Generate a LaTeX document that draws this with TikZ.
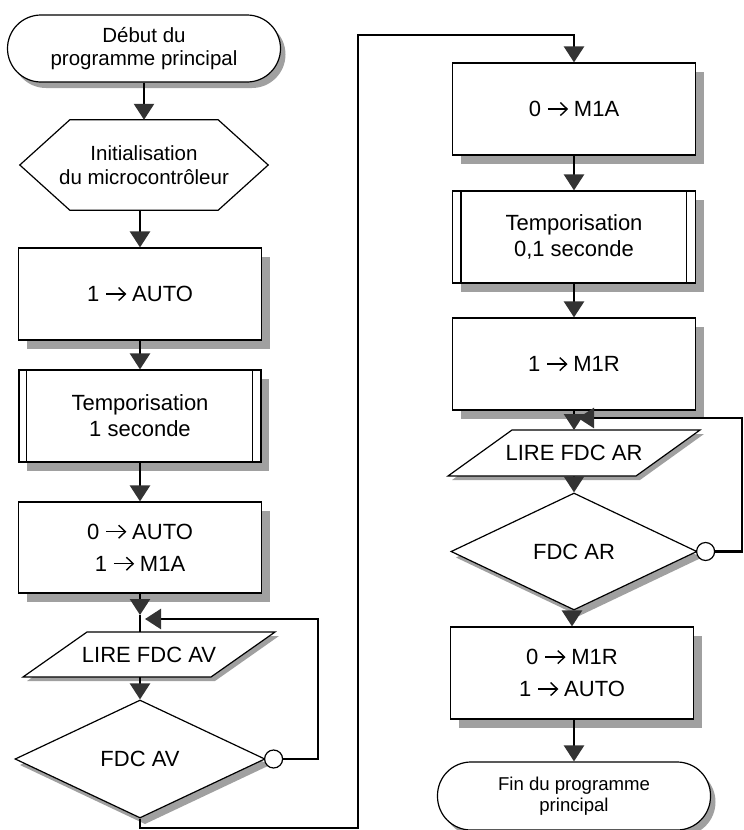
\documentclass[tikz,border=0pt]{standalone}
\usepackage{fontspec}
\setmainfont{Liberation Sans}
\usetikzlibrary{arrows.meta,shapes.geometric,calc}
\definecolor{shadowc}{RGB}{160,160,160}
\definecolor{tipc}{RGB}{51,51,51}
\newcommand{\rarr}{\tikz[x=1pt,y=1pt,baseline=0pt]{\path (0,0) rectangle (20,1);\draw[line width=1.4pt,line cap=butt] (0,7.5) -- (19,7.5);\draw[line width=1.4pt,line join=miter] (12.5,14) -- (19.3,7.5) -- (12.5,1);}}
\begin{document}
\begin{tikzpicture}[x=1pt,y=-1pt,
  txt/.style={font=\fontsize{22}{26}\selectfont, align=center},
  proc/.style={txt, draw, line width=1.2pt, fill=white, rectangle, minimum width=243pt, minimum height=92pt, inner sep=0pt},
  proc2/.style={proc, font=\fontsize{22}{32}\selectfont},
  term/.style={draw, line width=1.2pt, fill=white, rectangle, rounded corners=33.5pt, minimum width=273pt, minimum height=67pt, inner sep=0pt, align=center},
  plainbox/.style={txt, rectangle, inner sep=0pt},
  decis/.style={txt, draw, line width=1.2pt, fill=white, diamond, inner sep=0pt},
  paraline/.style={draw, line width=1.2pt, fill=white},
  shd/.style={fill=shadowc, draw=none},
  circ/.style={circle, draw, line width=1.2pt, fill=white, minimum size=18pt, inner sep=0pt},
  conn/.style={line width=2.6pt, line join=miter},
  arr/.style={conn, -{Triangle[length=16pt,width=20pt,color=tipc]}}
]
\useasboundingbox (0,0) rectangle (744,830);

% ---------- shadows (drawn first) ----------
\fill[shd, rounded corners=33.5pt] (12.5,21) rectangle (285.5,88);
\fill[shd, rounded corners=34pt] (442.5,768) rectangle (715.5,836);
\fill[shd] (26.5,257) rectangle (269.5,349);
\fill[shd] (27,379) rectangle (269,471);
\fill[shd] (26.5,511) rectangle (269.5,602);
\fill[shd] (460.5,72) rectangle (703.5,164);
\fill[shd] (460.5,200) rectangle (703.5,292);
\fill[shd] (460.5,327) rectangle (703.5,419);
\fill[shd] (458.5,636) rectangle (701.5,728);
\fill[shd] (145,706) -- (270,765) -- (145,824) -- (20,765) -- cycle;
\fill[shd] (579,499) -- (702,557.5) -- (579,616) -- (456,557.5) -- cycle;
\fill[shd] (27,681) -- (91,636) -- (279,636) -- (215,681) -- cycle;
\fill[shd] (452,480) -- (516,434) -- (704,434) -- (640,480) -- cycle;

% ---------- left column ----------
\node[term, font=\fontsize{20.5}{23.5}\selectfont] (start) at (144,48.5) {Début du\\programme principal};
\node[plainbox, font=\fontsize{20.5}{23.5}\selectfont, minimum width=248pt, minimum height=90pt] (hex) at (144,165) {Initialisation\\du microcontrôleur};
\draw[line width=1.2pt] (hex.west) -- ($(hex.north west)+(50,0)$) -- ($(hex.north east)+(-50,0)$) -- (hex.east)
  -- ($(hex.south east)+(-50,0)$) -- ($(hex.south west)+(50,0)$) -- cycle;

\node[proc] (b1) at (140,294) {1 \rarr{} AUTO};
\node[proc, minimum width=242pt] (t1) at (140,416) {Temporisation\\1 seconde};
\draw[line width=1.2pt] ($(t1.north west)+(8,0)$) -- ($(t1.south west)+(8,0)$);
\draw[line width=1.2pt] ($(t1.north east)+(-9,0)$) -- ($(t1.south east)+(-9,0)$);
\node[proc2, minimum height=91pt] (b2) at (140,547.5) {0 \rarr{} AUTO\\1 \rarr{} M1A};

\draw[paraline] (23,677) -- (87,632) -- (275,632) -- (211,677) -- cycle;
\node[plainbox] (lav) at (149,654.5) {LIRE FDC AV};

\node[decis, minimum width=250pt, minimum height=118pt] (dav) at (140,759) {FDC AV};
\node[circ] (cav) at ($(dav.east)+(8,0)$) {};

% ---------- right column ----------
\node[proc] (b3) at (574,109) {0 \rarr{} M1A};
\node[proc] (t2) at (574,237) {Temporisation\\0,1 seconde};
\draw[line width=1.2pt] ($(t2.north west)+(9,0)$) -- ($(t2.south west)+(9,0)$);
\draw[line width=1.2pt] ($(t2.north east)+(-10,0)$) -- ($(t2.south east)+(-10,0)$);
\node[proc] (b4) at (574,364) {1 \rarr{} M1R};

\draw[paraline] (448,476) -- (512,430) -- (700,430) -- (636,476) -- cycle;
\node[plainbox] (lar) at (574,453) {LIRE FDC AR};

\node[decis, minimum width=246pt, minimum height=117pt] (dar) at (574,551.5) {FDC AR};
\node[circ] (car) at ($(dar.east)+(8,0)$) {};

\node[proc2] (b5) at (572,673) {0 \rarr{} M1R\\1 \rarr{} AUTO};
\node[term, font=\fontsize{18.6}{20.5}\selectfont, minimum height=68pt] (fin) at (574,796) {Fin du programme\\principal};

% ---------- connectors ----------
\coordinate (jav) at (140,615);
\coordinate (rav) at (318,619);
\coordinate (mav) at (145,619);
\coordinate (c1) at (358,828);
\coordinate (c2) at (358,35);
\coordinate (rar) at (742,418);
\coordinate (mar) at (578,418);
\coordinate (lavtop) at (140,632);
\coordinate (lavbot) at (140,677);
\coordinate (lartop) at (574,430);
\coordinate (larbot) at (574,476);

\draw[arr] (start.south -| hex.north) -- (hex.north);
\draw[arr] (hex.south -| b1.north) -- (b1.north);
\draw[arr] (b1) -- (t1);
\draw[arr] (t1) -- (b2);
\draw[arr] (b2.south) -- (jav);
\draw[conn] (jav) -- (lavtop);
\draw[arr] (cav.east) -| (rav) -- (mav);
\draw[arr] (lavbot) -- (dav.north);
\draw[arr] (dav.south) |- (c1) -- (c2) -| (b3.north);

\draw[arr] (b3) -- (t2);
\draw[arr] (t2) -- (b4);
\draw[arr] (b4.south) -- (lartop);
\draw[arr] (car.east) -| (rar) -- (mar);
\draw[arr] (larbot) -- (dar.north);
\draw[arr] (dar.south -| b5.north) -- (b5.north);
\draw[arr] (b5.south -| fin.north) -- (fin.north);
\end{tikzpicture}
\end{document}
